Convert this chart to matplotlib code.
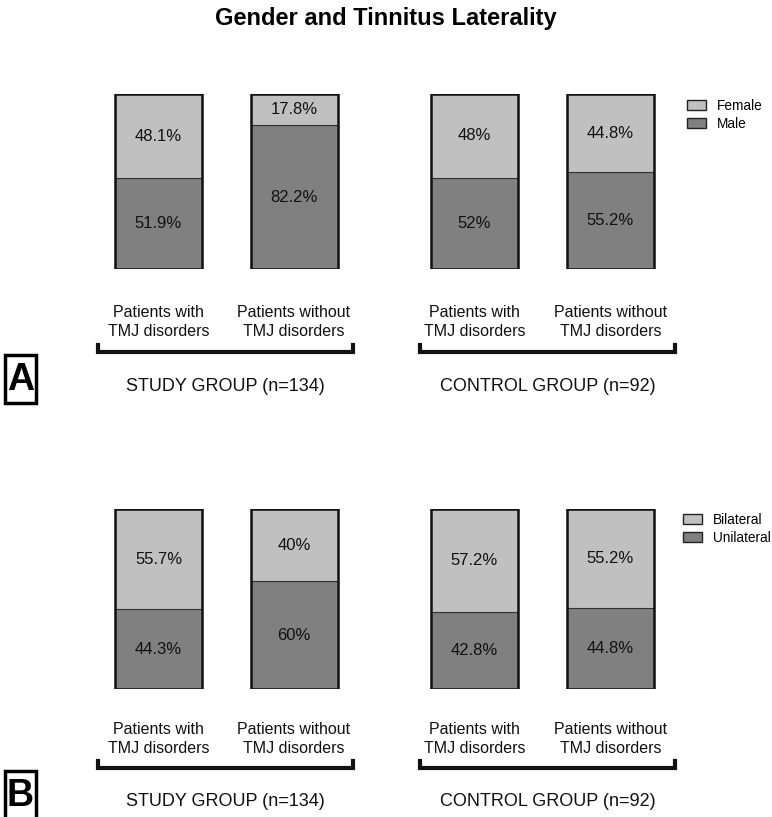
import matplotlib
matplotlib.use("Agg")
import matplotlib.pyplot as plt
from matplotlib import font_manager
from matplotlib.patches import Patch, Rectangle
from matplotlib.lines import Line2D

plt.rcParams['font.family'] = ['Liberation Sans', 'DejaVu Sans']

# data
categories = ["Patients with\nTMJ disorders", "Patients without\nTMJ disorders",
              "Patients with\nTMJ disorders", "Patients without\nTMJ disorders"]
groups = ["STUDY GROUP (n=134)", "CONTROL GROUP (n=92)"]
female = [48.1, 17.8, 48.0, 44.8]
male = [51.9, 82.2, 52.0, 55.2]
female_lbl = ["48.1%", "17.8%", "48%", "44.8%"]
male_lbl = ["51.9%", "82.2%", "52%", "55.2%"]
bilateral = [55.7, 40.0, 57.2, 55.2]
unilateral = [44.3, 60.0, 42.8, 44.8]
bilateral_lbl = ["55.7%", "40%", "57.2%", "55.2%"]
unilateral_lbl = ["44.3%", "60%", "42.8%", "44.8%"]

W, H = 772, 817
LIGHT = "#c0c0c0"
DARK = "#808080"
bar_x = [158.5, 294, 474.5, 610.5]
bar_w = 87


def fx(x):
    return x / W


def fy(y):
    return 1 - y / H


fig = plt.figure(figsize=(W / 100, H / 100), dpi=100)

# the title in the original uses a condensed bold face
names = {f.name for f in font_manager.fontManager.ttflist}
if 'Liberation Sans Narrow' in names:
    fig.text(0.5, fy(19), "Gender and Tinnitus Laterality", ha="center", va="center",
             fontsize=21, fontweight="bold", family=['Liberation Sans Narrow', 'DejaVu Sans'])
else:
    fig.text(0.5, fy(19), "Gender and Tinnitus Laterality", ha="center", va="center",
             fontsize=17, fontweight="bold")


def panel(top, bottom, low, high, low_lbl, high_lbl, names, letter, lab_y, br_y, grp_y,
          leg_x, leg_y):
    ax = fig.add_axes([0, fy(bottom), 1, (bottom - top) / H])
    ax.set_xlim(0, W)
    ax.set_ylim(0, 100)
    ax.axis("off")
    ax.bar(bar_x, low, bar_w, color=DARK, edgecolor="#333333", linewidth=0.8)
    ax.bar(bar_x, high, bar_w, bottom=low, color=LIGHT, edgecolor="#333333", linewidth=0.8)
    ax.bar(bar_x, [l + h for l, h in zip(low, high)], bar_w, fill=False,
           edgecolor="#111111", linewidth=1.8)
    for x, l, h, ll, hl in zip(bar_x, low, high, low_lbl, high_lbl):
        ax.text(x, l / 2, ll, ha="center", va="center", fontsize=12, color="#111111")
        ax.text(x, l + h / 2, hl, ha="center", va="center", fontsize=12, color="#111111")

    for x, c in zip(bar_x, categories):
        fig.text(fx(x), fy(lab_y), c, ha="center", va="center", fontsize=11.5,
                 linespacing=1.3, color="#111111")

    for (x0, x1), g in zip([(98, 353), (420, 675)], groups):
        fig.add_artist(Line2D([fx(x0), fx(x0), fx(x1), fx(x1)],
                              [fy(br_y - 7), fy(br_y), fy(br_y), fy(br_y - 7)],
                              color="#111111", linewidth=3, solid_joinstyle="miter"))
        fig.text(fx((x0 + x1) / 2), fy(grp_y), g, ha="center", va="center",
                 fontsize=13, color="#111111")

    box_top = br_y + 3
    fig.add_artist(Rectangle((fx(5), fy(box_top + 48)), fx(31), 48 / H, fill=False,
                             edgecolor="black", linewidth=2.5, transform=fig.transFigure))
    fig.text(fx(20.5), fy(box_top + 25), letter, ha="center", va="center",
             fontsize=27, fontweight="bold")

    handles = [Patch(facecolor=LIGHT, edgecolor="#222222", linewidth=1),
               Patch(facecolor=DARK, edgecolor="#222222", linewidth=1)]
    fig.legend(handles, names, loc="upper left", bbox_to_anchor=(fx(leg_x), fy(leg_y)),
               frameon=False, fontsize=9.8, handlelength=1.4, handleheight=0.75,
               handletextpad=0.8, labelspacing=0.28, borderpad=0, borderaxespad=0)
    return ax


panel(94, 269, male, female, male_lbl, female_lbl, ["Female", "Male"], "A",
      322, 352, 387, 687, 99)
panel(509, 689, unilateral, bilateral, unilateral_lbl, bilateral_lbl,
      ["Bilateral", "Unilateral"], "B", 739, 768, 801, 683, 513)

fig.savefig("out.png", dpi=100)
